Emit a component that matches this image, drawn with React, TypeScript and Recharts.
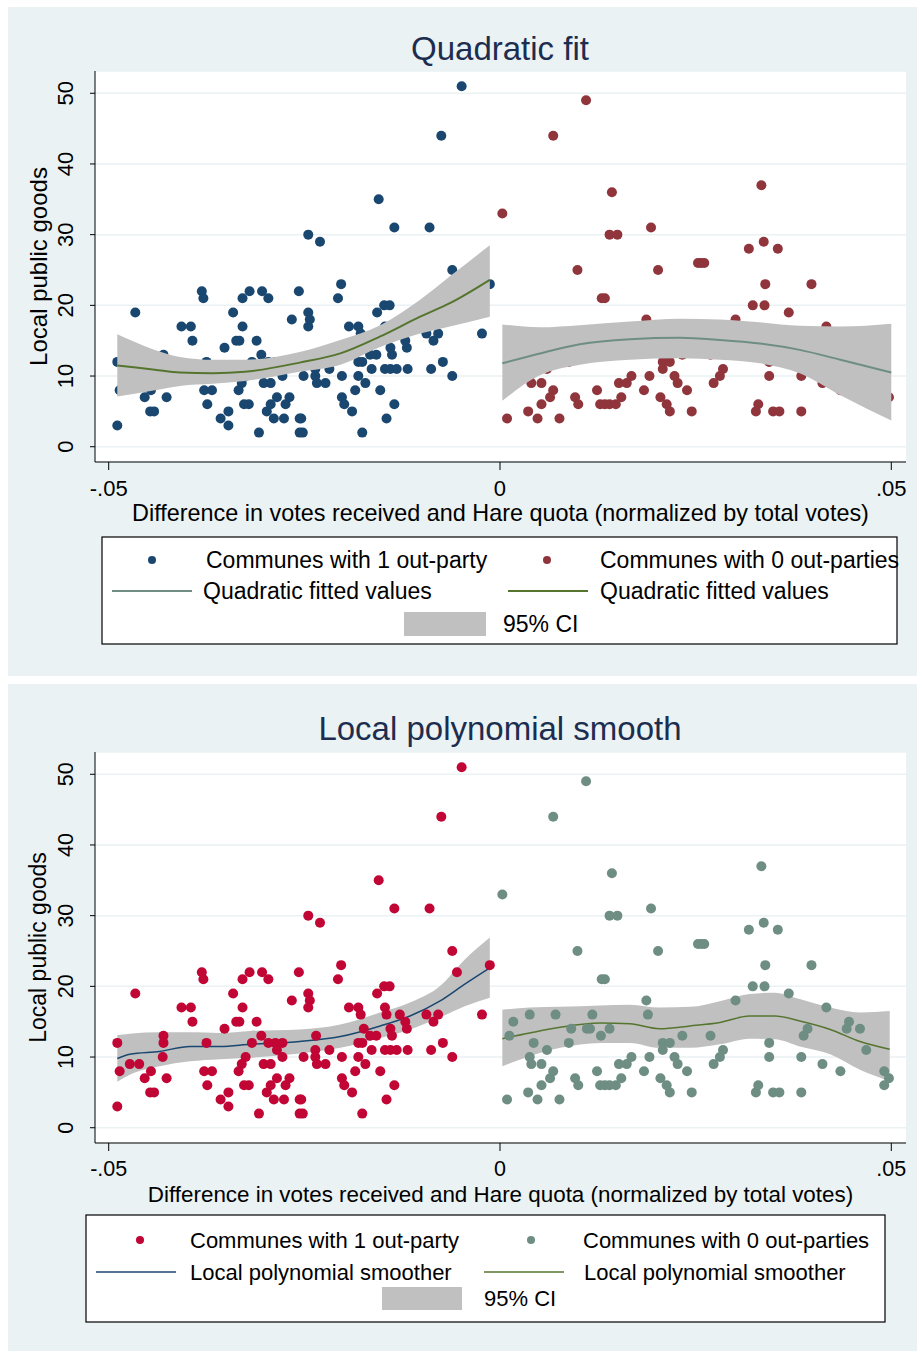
import React from "react";
import {
  ComposedChart,
  Scatter,
  Line,
  Area,
  XAxis,
  YAxis,
  CartesianGrid,
  Label,
} from "recharts";

const FONT = "'Liberation Sans', Arial, Helvetica, sans-serif";

// axis ticks
const xTicks = [-0.05, 0, 0.05];
const xTickLabels = ["-.05", "0", ".05"];
const yTicks = [0, 10, 20, 30, 40, 50];

// communes with 1 out-party (left of the quota)
const oneOutX = [
  -0.0489, -0.0486, -0.0489, -0.0473, -0.0461, -0.0466, -0.0454, -0.0446, -0.0447, -0.0442,
  -0.043, -0.043, -0.0431, -0.0426, -0.0407, -0.0395, -0.0393, -0.0381, -0.0379, -0.0375,
  -0.0378, -0.0368, -0.0374, -0.0357, -0.0347, -0.0347, -0.0352, -0.0341, -0.0337, -0.0333,
  -0.0329, -0.0329, -0.032, -0.0317, -0.0325, -0.033, -0.0334, -0.0327, -0.0321, -0.0311,
  -0.0305, -0.0304, -0.0296, -0.0302, -0.0293, -0.0308, -0.0296, -0.0287, -0.0278, -0.0285,
  -0.0278, -0.0298, -0.0293, -0.0285, -0.0289, -0.0276, -0.0274, -0.0269, -0.0266, -0.0257,
  -0.0256, -0.0256, -0.0245, -0.0243, -0.0245, -0.0245, -0.023, -0.0203, -0.0207, -0.0157,
  -0.0148, -0.0141, -0.0193, -0.0181, -0.0178, -0.0147, -0.0145, -0.0128, -0.0121, -0.0119,
  -0.0094, -0.0085, -0.0079, -0.0174, -0.014, -0.0138, -0.0235, -0.0166, -0.0158, -0.0181,
  -0.0176, -0.0073, -0.0164, -0.0147, -0.014, -0.0132, -0.0118, -0.0088, -0.0061, -0.0218,
  -0.0251, -0.0236, -0.0236, -0.0234, -0.0223, -0.0202, -0.0181, -0.0172, -0.0185, -0.0153,
  -0.0202, -0.0199, -0.0189, -0.0135, -0.0145, -0.0254, -0.0252, -0.0176, -0.0049, -0.0075,
  -0.0155, -0.0135, -0.009, -0.0061, -0.0013, -0.0055, -0.0023,
];
const oneOutY = [
  12, 8, 3, 9, 9, 19, 7, 8, 5, 5,
  13, 12, 10, 7, 17, 17, 15, 22, 21, 12,
  8, 8, 6, 4, 5, 3, 14, 19, 15, 15,
  17, 21, 22, 12, 10, 9, 8, 6, 6, 15,
  13, 22, 21, 9, 9, 2, 12, 12, 12, 11,
  10, 5, 6, 7, 4, 4, 6, 7, 18, 22,
  4, 2, 19, 18, 17, 30, 29, 23, 21, 19,
  20, 20, 17, 17, 16, 17, 16, 16, 15, 14,
  16, 15, 16, 14, 14, 13, 13, 13, 13, 12,
  12, 12, 11, 11, 11, 11, 11, 11, 10, 11,
  10, 11, 10, 9, 9, 10, 10, 9, 8, 8,
  7, 6, 5, 6, 4, 4, 2, 2, 51, 44,
  35, 31, 31, 25, 23, 22, 16,
];

// communes with 0 out-parties (right of the quota)
const zeroOutX = [
  0.011, 0.0068, 0.0143, 0.0003, 0.014, 0.015, 0.0193, 0.0099, 0.0202, 0.0253,
  0.013, 0.0134, 0.0187, 0.0189, 0.0017, 0.0012, 0.0038, 0.0071, 0.0043, 0.006,
  0.0038, 0.004, 0.0053, 0.0088, 0.0091, 0.0111, 0.0115, 0.0118, 0.0129, 0.014,
  0.0208, 0.0217, 0.0208, 0.0233, 0.0191, 0.0168, 0.0223, 0.0227, 0.0152, 0.0162,
  0.0068, 0.0064, 0.0053, 0.0036, 0.0009, 0.0048, 0.0076, 0.0096, 0.01, 0.0124,
  0.0128, 0.0134, 0.014, 0.0148, 0.0155, 0.0184, 0.0205, 0.0213, 0.0217, 0.0239,
  0.0245, 0.0334, 0.0318, 0.0337, 0.0355, 0.0257, 0.0261, 0.0339, 0.0398, 0.0323,
  0.0338, 0.0369, 0.0301, 0.0417, 0.0344, 0.0285, 0.0281, 0.0273, 0.0344, 0.0385,
  0.0412, 0.0435, 0.0491, 0.0497, 0.0491, 0.033, 0.0327, 0.0349, 0.0357, 0.0385,
  0.0269, 0.0446, 0.0443, 0.046, 0.0388, 0.0393, 0.0468,
];
const zeroOutY = [
  49, 44, 36, 33, 30, 30, 31, 25, 25, 26,
  21, 21, 18, 16, 15, 13, 16, 16, 12, 11,
  10, 9, 9, 12, 14, 14, 14, 16, 13, 14,
  12, 12, 11, 13, 10, 10, 10, 9, 9, 9,
  8, 7, 6, 5, 4, 4, 4, 7, 6, 8,
  6, 6, 6, 6, 7, 8, 7, 6, 5, 8,
  5, 37, 28, 29, 28, 26, 26, 23, 23, 20,
  20, 19, 18, 17, 12, 11, 10, 9, 10, 10,
  9, 8, 8, 7, 6, 6, 5, 5, 5, 5,
  13, 15, 14, 14, 13, 14, 11,
];

// quadratic fit with 95% CI, left side
const quadLeftX = [-0.0489, -0.0441, -0.0409, -0.0367, -0.0326, -0.0256, -0.0204, -0.0153, -0.0102, -0.0064, -0.0013];
const quadLeftFit = [11.5, 10.9, 10.5, 10.4, 10.6, 11.9, 13.2, 15.6, 18.4, 20.3, 23.6];
const quadLeftLo = [7.1, 8.0, 8.6, 8.9, 9.3, 10.6, 11.6, 14.1, 16.0, 17.0, 18.4];
const quadLeftHi = [15.9, 13.7, 12.7, 12.3, 12.3, 13.4, 15.1, 17.2, 20.8, 24.1, 28.5];

// quadratic fit with 95% CI, right side
const quadRightX = [0.0003, 0.0051, 0.0102, 0.0166, 0.023, 0.0281, 0.0332, 0.0383, 0.0435, 0.0500];
const quadRightFit = [11.8, 13.2, 14.5, 15.2, 15.4, 15.1, 14.6, 13.7, 12.3, 10.5];
const quadRightLo = [6.5, 10.1, 11.6, 12.3, 12.5, 12.3, 11.8, 10.4, 7.3, 3.7];
const quadRightHi = [17.3, 16.9, 17.2, 17.7, 18.1, 18.0, 17.6, 17.1, 17.0, 17.4];

// local polynomial smooth with 95% CI, left side
const lpolyLeftX = [-0.0489, -0.0473, -0.0435, -0.0396, -0.0358, -0.0319, -0.0256, -0.0204, -0.0153, -0.0115, -0.0077, -0.0045, -0.0013];
const lpolyLeftFit = [9.8, 10.4, 10.8, 11.5, 11.5, 11.8, 12.2, 12.9, 14.4, 15.8, 17.9, 20.3, 22.6];
const lpolyLeftLo = [6.5, 7.5, 8.7, 9.4, 9.7, 9.9, 10.5, 11.3, 12.7, 13.9, 15.6, 17.2, 18.4];
const lpolyLeftHi = [13.1, 13.3, 13.5, 13.5, 13.4, 13.7, 13.9, 14.6, 16.3, 17.7, 20.0, 23.8, 26.9];

// local polynomial smooth with 95% CI, right side
const lpolyRightX = [0.0003, 0.0038, 0.0077, 0.0128, 0.0166, 0.0204, 0.0243, 0.0281, 0.0319, 0.0351, 0.0383, 0.0422, 0.046, 0.0498];
const lpolyRightFit = [12.6, 13.4, 14.2, 14.8, 14.7, 14.0, 14.4, 14.9, 15.8, 15.8, 15.1, 13.9, 12.2, 11.1];
const lpolyRightLo = [8.7, 10.1, 11.3, 12.0, 12.0, 11.3, 11.3, 11.8, 12.6, 12.5, 11.5, 10.4, 8.2, 6.6];
const lpolyRightHi = [16.7, 17.0, 17.1, 17.3, 17.4, 17.0, 17.1, 17.9, 18.9, 19.1, 18.2, 17.0, 16.3, 16.5];

const NAVY = "#1a476f";
const MAROON = "#90353b";
const GREEN = "#55752f";
const TEAL = "#6e8e84";
const CRANBERRY = "#c10534";
const BAND = "#c0c0c0";
const BG = "#eaf2f3";

const X_DOMAIN: [number, number] = [-0.05175, 0.05188];
const Y_DOMAIN: [number, number] = [-2.16, 53.15];

const toPoints = (xs: number[], ys: number[]) => xs.map((x, i) => ({ x, y: ys[i] }));
const toFit = (xs: number[], fit: number[], lo: number[], hi: number[]) =>
  xs.map((x, i) => ({ x, fit: fit[i], ci: [lo[i], hi[i]] }));

const oneOut = toPoints(oneOutX, oneOutY);
const zeroOut = toPoints(zeroOutX, zeroOutY);
const quadLeft = toFit(quadLeftX, quadLeftFit, quadLeftLo, quadLeftHi);
const quadRight = toFit(quadRightX, quadRightFit, quadRightLo, quadRightHi);
const lpolyLeft = toFit(lpolyLeftX, lpolyLeftFit, lpolyLeftLo, lpolyLeftHi);
const lpolyRight = toFit(lpolyRightX, lpolyRightFit, lpolyRightLo, lpolyRightHi);

const dot = (fill: string) => (p: any) =>
  p.cx == null ? <g /> : <circle cx={p.cx} cy={p.cy} r={5} fill={fill} />;

function YTick(props: any) {
  const { x, y, payload, fontSize } = props;
  const bx = x - 17;
  return (
    <text
      x={bx}
      y={y}
      transform={`rotate(-90 ${bx} ${y})`}
      textAnchor="middle"
      fontSize={fontSize}
      fontFamily={FONT}
      fill="#000"
    >
      {payload.value}
    </text>
  );
}

function Panel(props: {
  top: number;
  fs: number;
  xTitleFs: number;
  yTitleFs: number;
  leftColor: string;
  rightColor: string;
  leftLine: string;
  rightLine: string;
  leftFit: any[];
  rightFit: any[];
  lineWidth: number;
  pointsBelowBand: boolean;
}) {
  const p = props;
  // in the quadratic panel the CI band is painted over the markers
  const scatterZ = p.pointsBelowBand ? 50 : 600;
  return (
    <div style={{ position: "absolute", left: 0, top: p.top, width: 917, height: 530 }}>
      <ComposedChart width={917} height={530} margin={{ top: 71, right: 11, bottom: 0, left: 20 }}>
        <CartesianGrid vertical={false} stroke={BG} strokeWidth={1.5} fill="#ffffff" />
        <XAxis
          type="number"
          dataKey="x"
          domain={X_DOMAIN}
          ticks={xTicks}
          allowDataOverflow
          height={68}
          tickSize={8}
          tickMargin={10}
          tickFormatter={(v: number) => xTickLabels[xTicks.indexOf(v)]}
          tick={{ fontSize: p.fs, fill: "#000", fontFamily: FONT }}
          axisLine={{ stroke: "#000" }}
          tickLine={{ stroke: "#000" }}
        >
          <Label
            value="Difference in votes received and Hare quota (normalized by total votes)"
            position="insideBottom"
            offset={9}
            style={{ fontSize: p.xTitleFs, fill: "#000", fontFamily: FONT }}
          />
        </XAxis>
        <YAxis
          type="number"
          domain={Y_DOMAIN}
          ticks={yTicks}
          allowDataOverflow
          width={75}
          tickSize={5}
          tickMargin={0}
          tick={<YTick fontSize={p.fs} />}
          axisLine={{ stroke: "#000" }}
          tickLine={{ stroke: "#000" }}
        >
          <Label
            value="Local public goods"
            angle={-90}
            position="insideLeft"
            offset={18}
            style={{ fontSize: p.yTitleFs, fill: "#000", fontFamily: FONT, textAnchor: "middle" }}
          />
        </YAxis>
        <Scatter data={oneOut} dataKey="y" shape={dot(p.leftColor)} zIndex={scatterZ} isAnimationActive={false} />
        <Scatter data={zeroOut} dataKey="y" shape={dot(p.rightColor)} zIndex={scatterZ} isAnimationActive={false} />
        <Area data={p.leftFit} dataKey="ci" type="monotone" fill={BAND} fillOpacity={1} stroke="none" isAnimationActive={false} />
        <Area data={p.rightFit} dataKey="ci" type="monotone" fill={BAND} fillOpacity={1} stroke="none" isAnimationActive={false} />
        <Line data={p.leftFit} dataKey="fit" type="monotone" stroke={p.leftLine} strokeWidth={p.lineWidth} dot={false} isAnimationActive={false} />
        <Line data={p.rightFit} dataKey="fit" type="monotone" stroke={p.rightLine} strokeWidth={p.lineWidth} dot={false} isAnimationActive={false} />
      </ComposedChart>
    </div>
  );
}

function LegendText({ x, y, fs, children }: any) {
  return (
    <text x={x} y={y + fs * 0.36} fontSize={fs} fontFamily={FONT} fill="#000">
      {children}
    </text>
  );
}

export default function App() {
  const legTop = 23;
  const legBot = 22;
  return (
    <div style={{ position: "absolute", left: 0, top: 0, width: 917, height: 1351, background: "#fff", fontFamily: FONT }}>
      <style>{"body{margin:0}"}</style>
      <div style={{ position: "absolute", left: 8, top: 7, width: 909, height: 669, background: BG }} />
      <div style={{ position: "absolute", left: 8, top: 684, width: 909, height: 667, background: BG }} />

      <Panel
        top={0}
        fs={22}
        xTitleFs={23.4}
        yTitleFs={24}
        leftColor={NAVY}
        rightColor={MAROON}
        leftLine={GREEN}
        rightLine={TEAL}
        leftFit={quadLeft}
        rightFit={quadRight}
        lineWidth={2}
        pointsBelowBand={true}
      />
      <Panel
        top={681}
        fs={21.5}
        xTitleFs={22.4}
        yTitleFs={23}
        leftColor={CRANBERRY}
        rightColor={TEAL}
        leftLine={NAVY}
        rightLine={GREEN}
        leftFit={lpolyLeft}
        rightFit={lpolyRight}
        lineWidth={1.5}
        pointsBelowBand={false}
      />

      <svg width={917} height={1351} style={{ position: "absolute", left: 0, top: 0, pointerEvents: "none" }}>
        <text x={500} y={60} textAnchor="middle" fontSize={33} fontFamily={FONT} fill="#1c2d50">
          Quadratic fit
        </text>
        <text x={500} y={740} textAnchor="middle" fontSize={33} fontFamily={FONT} fill="#1c2d50">
          Local polynomial smooth
        </text>

        {/* top legend */}
        <rect x={102} y={537} width={795} height={107} fill="#fff" stroke="#000" strokeWidth={1.2} />
        <circle cx={152} cy={560} r={4} fill={NAVY} />
        <LegendText x={206} y={560} fs={legTop}>Communes with 1 out-party</LegendText>
        <circle cx={547} cy={560} r={4} fill={MAROON} />
        <LegendText x={600} y={560} fs={legTop}>Communes with 0 out-parties</LegendText>
        <line x1={112} x2={192} y1={591} y2={591} stroke={TEAL} strokeWidth={2} />
        <LegendText x={203} y={591} fs={legTop}>Quadratic fitted values</LegendText>
        <line x1={508} x2={588} y1={591} y2={591} stroke={GREEN} strokeWidth={2} />
        <LegendText x={600} y={591} fs={legTop}>Quadratic fitted values</LegendText>
        <rect x={404} y={612} width={82} height={24} fill={BAND} />
        <LegendText x={503} y={624} fs={legTop}>95% CI</LegendText>

        {/* bottom legend */}
        <rect x={86} y={1215} width={799} height={107} fill="#fff" stroke="#000" strokeWidth={1.2} />
        <circle cx={140} cy={1240} r={4} fill={CRANBERRY} />
        <LegendText x={190} y={1240} fs={legBot}>Communes with 1 out-party</LegendText>
        <circle cx={531} cy={1240} r={4} fill={TEAL} />
        <LegendText x={583} y={1240} fs={legBot}>Communes with 0 out-parties</LegendText>
        <line x1={96} x2={176} y1={1272} y2={1272} stroke={NAVY} strokeWidth={1.5} />
        <LegendText x={190} y={1272} fs={legBot}>Local polynomial smoother</LegendText>
        <line x1={484} x2={564} y1={1272} y2={1272} stroke={GREEN} strokeWidth={1.5} />
        <LegendText x={584} y={1272} fs={legBot}>Local polynomial smoother</LegendText>
        <rect x={382} y={1287} width={80} height={23} fill={BAND} />
        <LegendText x={484} y={1298} fs={legBot}>95% CI</LegendText>
      </svg>
    </div>
  );
}
